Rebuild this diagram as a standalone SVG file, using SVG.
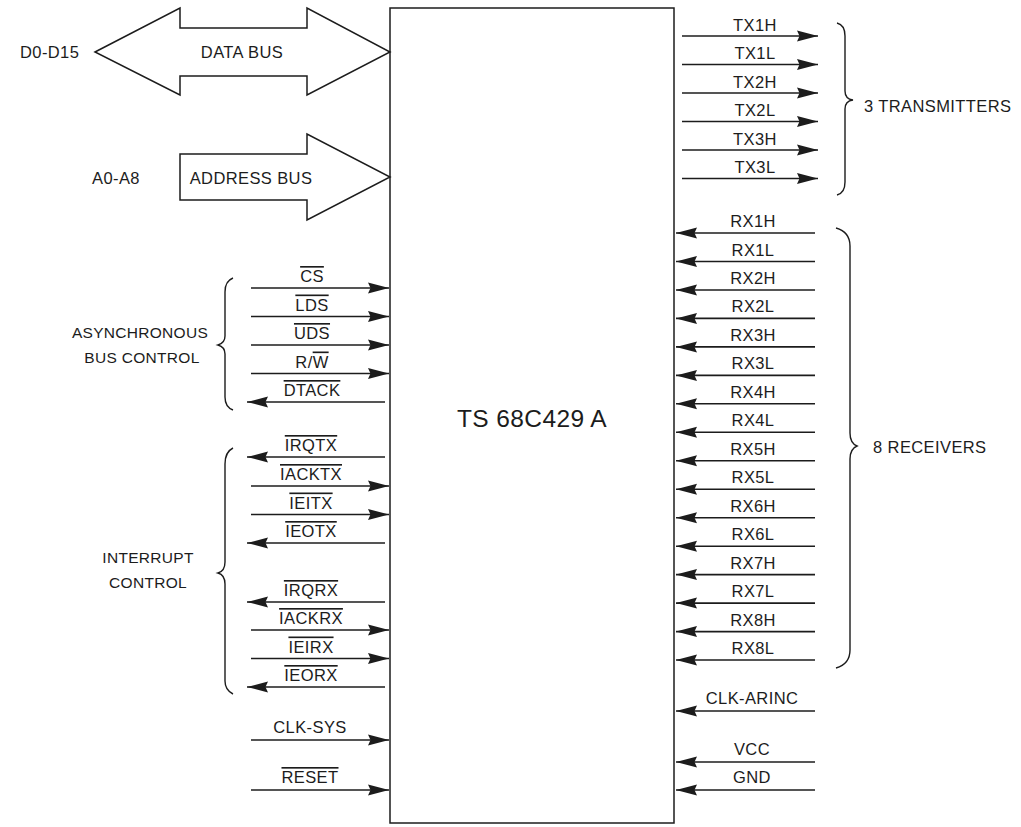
<svg xmlns="http://www.w3.org/2000/svg" width="1021" height="827" viewBox="0 0 1021 827">
<style>
text{font-family:"Liberation Sans",Arial,Helvetica,sans-serif;fill:#1c1c1c}
.s{font-size:16.5px;letter-spacing:0.4px;text-anchor:middle}
.g{font-size:16.5px;letter-spacing:0.4px}
.gm{font-size:15.5px;letter-spacing:0.3px;text-anchor:middle}
.ol{text-decoration:overline}
.w{stroke:#1c1c1c;stroke-width:1.5;fill:none}
.c{stroke:#1c1c1c;stroke-width:1.6;fill:none;marker-end:url(#ah)}
.b{stroke:#1c1c1c;stroke-width:1.4;fill:none}
</style>
<defs>
<marker id="ah" viewBox="0 0 21 12" markerWidth="21" markerHeight="12" refX="21" refY="6" orient="auto" markerUnits="userSpaceOnUse">
<path d="M0,0.5 L21,6 L0,11.5 L2.5,6 z" fill="#1c1c1c"/>
</marker>
</defs>
<rect width="1021" height="827" fill="#fff"/>

<g id="chip">
<rect x="390" y="8" width="284" height="815" class="w"/>
<text x="532" y="427" font-size="24.5" text-anchor="middle" letter-spacing="0.4">TS 68C429 A</text>
</g>

<g id="data-bus">
<path d="M95,52 L180,8 L180,28 L307,28 L307,8 L390,52 L307,95 L307,76 L180,76 L180,95 Z" class="w" fill="#fff"/>
<text x="242" y="58" class="s">DATA BUS</text>
<text x="20" y="58" class="g">D0-D15</text>
</g>

<g id="address-bus">
<path d="M180,154 L307,154 L307,134 L390,177 L307,220 L307,200 L180,200 Z" class="w" fill="#fff"/>
<text x="251" y="184" class="s">ADDRESS BUS</text>
<text x="92" y="184" class="g">A0-A8</text>
</g>

<g id="braces">
<path class="b" d="M837,23 Q845,25 845,36 L845,91 Q845,99 853,100 Q845,101 845,109 L845,182 Q845,193 837,195"/>
<text x="864" y="112" class="g" font-size="17">3 TRANSMITTERS</text>
<path class="b" d="M836,228 Q850,232 850,246 L850,433 Q850,443 857,446 Q850,449 850,459 L850,650 Q850,664 836,668"/>
<text x="873" y="453" class="g">8 RECEIVERS</text>
<path class="b" d="M233,278 Q225,281 225,292 L225,336 Q225,343 218,345 Q225,347 225,354 L225,397 Q225,407 233,410"/>
<text x="140" y="338" class="gm">ASYNCHRONOUS</text>
<text x="142" y="363" class="gm">BUS CONTROL</text>
<path class="b" d="M233,448 Q225,452 225,464 L225,562 Q225,571 218,573 Q225,575 225,584 L225,681 Q225,690 233,694"/>
<text x="148" y="563" class="gm">INTERRUPT</text>
<text x="148" y="588" class="gm">CONTROL</text>
</g>

<g id="connectors">
<path class="c" d="M251,288 L389,288"/>
<path class="c" d="M251,316.5 L389,316.5"/>
<path class="c" d="M251,345 L389,345"/>
<path class="c" d="M251,373.5 L389,373.5"/>
<path class="c" d="M385,402 L247,402"/>
<path class="c" d="M385,457 L247,457"/>
<path class="c" d="M251,486 L389,486"/>
<path class="c" d="M251,514.5 L389,514.5"/>
<path class="c" d="M385,543 L247,543"/>
<path class="c" d="M385,602 L247,602"/>
<path class="c" d="M251,630 L389,630"/>
<path class="c" d="M251,658.5 L389,658.5"/>
<path class="c" d="M385,687 L247,687"/>
<path class="c" d="M251,740 L389,740"/>
<path class="c" d="M251,790 L389,790"/>
<path class="c" d="M682,36 L818,36"/>
<path class="c" d="M682,64.5 L818,64.5"/>
<path class="c" d="M682,93 L818,93"/>
<path class="c" d="M682,121.5 L818,121.5"/>
<path class="c" d="M682,150 L818,150"/>
<path class="c" d="M682,178.5 L818,178.5"/>
<path class="c" d="M815,233 L676,233"/>
<path class="c" d="M815,261.5 L676,261.5"/>
<path class="c" d="M815,290 L676,290"/>
<path class="c" d="M815,318.4 L676,318.4"/>
<path class="c" d="M815,346.9 L676,346.9"/>
<path class="c" d="M815,375.4 L676,375.4"/>
<path class="c" d="M815,403.8 L676,403.8"/>
<path class="c" d="M815,432.3 L676,432.3"/>
<path class="c" d="M815,460.8 L676,460.8"/>
<path class="c" d="M815,489.2 L676,489.2"/>
<path class="c" d="M815,517.7 L676,517.7"/>
<path class="c" d="M815,546.2 L676,546.2"/>
<path class="c" d="M815,574.6 L676,574.6"/>
<path class="c" d="M815,603.1 L676,603.1"/>
<path class="c" d="M815,631.6 L676,631.6"/>
<path class="c" d="M815,660 L676,660"/>
<path class="c" d="M815,711 L676,711"/>
<path class="c" d="M815,762 L676,762"/>
<path class="c" d="M815,790 L676,790"/>
</g>

<g id="left-labels">
<text x="312" y="282" class="s"><tspan class="ol">CS</tspan></text>
<text x="312" y="310.5" class="s"><tspan class="ol">LDS</tspan></text>
<text x="312" y="339" class="s"><tspan class="ol">UDS</tspan></text>
<text x="312" y="367.5" class="s">R/<tspan class="ol">W</tspan></text>
<text x="312" y="396" class="s"><tspan class="ol">DTACK</tspan></text>
<text x="311" y="451" class="s"><tspan class="ol">IRQTX</tspan></text>
<text x="311" y="480" class="s"><tspan class="ol">IACKTX</tspan></text>
<text x="311" y="508.5" class="s"><tspan class="ol">IEITX</tspan></text>
<text x="311" y="537" class="s"><tspan class="ol">IEOTX</tspan></text>
<text x="311" y="596" class="s"><tspan class="ol">IRQRX</tspan></text>
<text x="311" y="624" class="s"><tspan class="ol">IACKRX</tspan></text>
<text x="311" y="652.5" class="s"><tspan class="ol">IEIRX</tspan></text>
<text x="311" y="681" class="s"><tspan class="ol">IEORX</tspan></text>
<text x="310" y="733" class="s">CLK-SYS</text>
<text x="310" y="783" class="s"><tspan class="ol">RESET</tspan></text>
</g>

<g id="right-labels">
<text x="755" y="31" class="s">TX1H</text>
<text x="755" y="59" class="s">TX1L</text>
<text x="755" y="87.5" class="s">TX2H</text>
<text x="755" y="116" class="s">TX2L</text>
<text x="755" y="144.5" class="s">TX3H</text>
<text x="755" y="173" class="s">TX3L</text>
<text x="753" y="227" class="s">RX1H</text>
<text x="753" y="255.5" class="s">RX1L</text>
<text x="753" y="284" class="s">RX2H</text>
<text x="753" y="312.4" class="s">RX2L</text>
<text x="753" y="340.9" class="s">RX3H</text>
<text x="753" y="369.4" class="s">RX3L</text>
<text x="753" y="397.8" class="s">RX4H</text>
<text x="753" y="426.3" class="s">RX4L</text>
<text x="753" y="454.8" class="s">RX5H</text>
<text x="753" y="483.2" class="s">RX5L</text>
<text x="753" y="511.7" class="s">RX6H</text>
<text x="753" y="540.2" class="s">RX6L</text>
<text x="753" y="568.6" class="s">RX7H</text>
<text x="753" y="597.1" class="s">RX7L</text>
<text x="753" y="625.6" class="s">RX8H</text>
<text x="753" y="654" class="s">RX8L</text>
<text x="752" y="704" class="s">CLK-ARINC</text>
<text x="752" y="755" class="s">VCC</text>
<text x="752" y="783" class="s">GND</text>
</g>
</svg>
